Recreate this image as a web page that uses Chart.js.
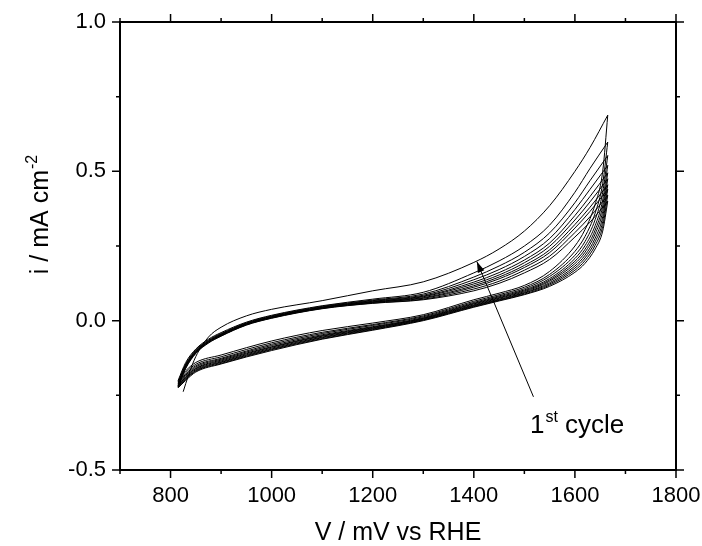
<!DOCTYPE html>
<html>
<head>
<meta charset="utf-8">
<script src="https://cdn.jsdelivr.net/npm/chart.js@4"></script>
<style>
  html, body { margin: 0; padding: 0; background: #fff; }
  #cv { display: block; }
</style>
</head>
<body>
<canvas id="cv" width="702" height="546"></canvas>
<script>
// ===== datos (V en mV, i en mA cm-2) =====
const firstAnodicV = [825, 835, 850, 875, 900, 950, 1000, 1100, 1200, 1300, 1400, 1450, 1500, 1550, 1600, 1630, 1665];
const anodicV = [815, 830, 850, 875, 900, 950, 1000, 1100, 1200, 1300, 1400, 1450, 1500, 1550, 1600, 1630, 1665];
const cathodicV = [1665, 1655, 1640, 1620, 1600, 1550, 1500, 1450, 1400, 1300, 1200, 1100, 1000, 900, 850, 830, 815];

// barrido anódico, ciclos 1..10
const anodicI = [
  [-0.238, -0.185, -0.120, -0.055, -0.022, 0.016, 0.038, 0.067, 0.100, 0.130, 0.195, 0.240, 0.300, 0.385, 0.500, 0.580, 0.688],
  [-0.200, -0.140, -0.095, -0.062, -0.040, -0.005, 0.018, 0.050, 0.072, 0.095, 0.160, 0.200, 0.250, 0.320, 0.430, 0.510, 0.598],
  [-0.205, -0.145, -0.098, -0.065, -0.043, -0.007, 0.016, 0.048, 0.069, 0.089, 0.146, 0.183, 0.229, 0.294, 0.395, 0.469, 0.553],
  [-0.209, -0.148, -0.101, -0.067, -0.045, -0.009, 0.014, 0.046, 0.067, 0.085, 0.137, 0.171, 0.215, 0.275, 0.372, 0.440, 0.520],
  [-0.212, -0.150, -0.103, -0.069, -0.046, -0.010, 0.013, 0.045, 0.065, 0.082, 0.129, 0.161, 0.203, 0.260, 0.352, 0.416, 0.495],
  [-0.215, -0.152, -0.104, -0.070, -0.047, -0.011, 0.012, 0.044, 0.063, 0.080, 0.123, 0.153, 0.194, 0.249, 0.337, 0.398, 0.475],
  [-0.217, -0.154, -0.106, -0.071, -0.049, -0.012, 0.011, 0.043, 0.062, 0.077, 0.117, 0.146, 0.185, 0.237, 0.322, 0.380, 0.455],
  [-0.219, -0.156, -0.107, -0.072, -0.050, -0.013, 0.010, 0.042, 0.061, 0.075, 0.112, 0.140, 0.178, 0.228, 0.310, 0.366, 0.440],
  [-0.221, -0.158, -0.108, -0.074, -0.051, -0.014, 0.009, 0.041, 0.059, 0.072, 0.106, 0.132, 0.169, 0.216, 0.295, 0.348, 0.420],
  [-0.223, -0.160, -0.110, -0.075, -0.052, -0.015, 0.008, 0.040, 0.058, 0.070, 0.100, 0.125, 0.160, 0.205, 0.280, 0.330, 0.400]
];

// barrido catódico, ciclos 1..10
const cathodicI = [
  [0.688, 0.500, 0.390, 0.305, 0.250, 0.165, 0.118, 0.092, 0.070, 0.020, -0.008, -0.033, -0.068, -0.115, -0.140, -0.168, -0.200],
  [0.598, 0.460, 0.360, 0.282, 0.232, 0.155, 0.112, 0.087, 0.065, 0.016, -0.013, -0.039, -0.074, -0.121, -0.146, -0.174, -0.205],
  [0.553, 0.430, 0.338, 0.265, 0.219, 0.148, 0.107, 0.083, 0.061, 0.013, -0.016, -0.043, -0.079, -0.126, -0.151, -0.179, -0.209],
  [0.520, 0.404, 0.318, 0.251, 0.208, 0.141, 0.103, 0.080, 0.058, 0.010, -0.020, -0.047, -0.083, -0.129, -0.155, -0.183, -0.212],
  [0.495, 0.384, 0.303, 0.239, 0.199, 0.136, 0.100, 0.077, 0.056, 0.008, -0.022, -0.050, -0.087, -0.132, -0.159, -0.187, -0.215],
  [0.475, 0.366, 0.290, 0.229, 0.191, 0.132, 0.097, 0.075, 0.053, 0.007, -0.024, -0.052, -0.089, -0.135, -0.161, -0.189, -0.217],
  [0.455, 0.348, 0.276, 0.219, 0.183, 0.127, 0.094, 0.072, 0.051, 0.005, -0.026, -0.055, -0.092, -0.138, -0.164, -0.192, -0.219],
  [0.440, 0.332, 0.264, 0.210, 0.176, 0.123, 0.092, 0.070, 0.049, 0.003, -0.028, -0.057, -0.095, -0.140, -0.167, -0.195, -0.221],
  [0.420, 0.316, 0.252, 0.201, 0.169, 0.119, 0.089, 0.068, 0.047, 0.002, -0.030, -0.060, -0.097, -0.143, -0.169, -0.197, -0.223],
  [0.400, 0.300, 0.240, 0.192, 0.162, 0.115, 0.087, 0.066, 0.045, 0.000, -0.032, -0.062, -0.100, -0.145, -0.172, -0.200, -0.225]
];

// ejes
const xTicks = [800, 1000, 1200, 1400, 1600, 1800];
const xMinorTicks = [700, 900, 1100, 1300, 1500, 1700];
const yTicks = [-0.5, 0.0, 0.5, 1.0];
const yMinorTicks = [-0.25, 0.25, 0.75];

// anotación "1st cycle"
const arrowFrom = { x: 1518, y: -0.255 };
const arrowTo = { x: 1406, y: 0.198 };
const labelAt = { x: 1511, y: -0.376 };

const FONT = '"Liberation Sans", Arial, sans-serif';

const datasets = [];
anodicI.forEach((row, c) => {
  const vs = c === 0 ? firstAnodicV : anodicV;
  datasets.push({ label: 'Ciclo ' + (c + 1) + ' anódico', data: row.map((v, i) => ({ x: vs[i], y: v })) });
  datasets.push({ label: 'Ciclo ' + (c + 1) + ' catódico', data: cathodicI[c].map((v, i) => ({ x: cathodicV[i], y: v })) });
});
datasets.forEach(d => {
  d.showLine = true;
  d.borderColor = '#000';
  d.borderWidth = 1;
  d.pointRadius = 0;
  d.cubicInterpolationMode = 'monotone';
});

/* ===== marco, ticks menores, títulos y flecha ===== */
const cvDecor = {
  id: 'cvDecor',
  afterDraw(chart) {
    const { ctx, chartArea: a, scales: { x, y } } = chart;
    ctx.save();
    ctx.strokeStyle = '#000';
    ctx.fillStyle = '#000';
    ctx.lineWidth = 2;
    ctx.strokeRect(a.left, a.top, a.right - a.left, a.bottom - a.top);

    const tick = (px, isX, len) => {
      ctx.beginPath();
      if (isX) {
        ctx.moveTo(px, a.bottom); ctx.lineTo(px, a.bottom + len);
        ctx.moveTo(px, a.top); ctx.lineTo(px, a.top - len);
      } else {
        ctx.moveTo(a.left, px); ctx.lineTo(a.left - len, px);
        ctx.moveTo(a.right, px); ctx.lineTo(a.right + len, px);
      }
      ctx.stroke();
    };
    ctx.lineWidth = 1.5;
    xTicks.forEach(v => tick(x.getPixelForValue(v), true, 8));
    xMinorTicks.forEach(v => tick(x.getPixelForValue(v), true, 4));
    yTicks.forEach(v => tick(y.getPixelForValue(v), false, 8));
    yMinorTicks.forEach(v => tick(y.getPixelForValue(v), false, 4));

    // título eje x
    ctx.font = '25px ' + FONT;
    ctx.textAlign = 'center';
    ctx.textBaseline = 'alphabetic';
    ctx.fillText('V / mV vs RHE', (a.left + a.right) / 2, 540);

    // título eje y con superíndice
    ctx.save();
    ctx.translate(48, 215);
    ctx.rotate(-Math.PI / 2);
    ctx.textAlign = 'left';
    ctx.font = '25px ' + FONT;
    const main = 'i / mA cm';
    const wMain = ctx.measureText(main).width;
    ctx.font = '16px ' + FONT;
    const wSup = ctx.measureText('-2').width;
    const start = -(wMain + wSup) / 2;
    ctx.font = '25px ' + FONT;
    ctx.fillText(main, start, 0);
    ctx.font = '16px ' + FONT;
    ctx.fillText('-2', start + wMain + 1, -11);
    ctx.restore();

    // flecha
    const x0 = x.getPixelForValue(arrowFrom.x), y0 = y.getPixelForValue(arrowFrom.y);
    const x1 = x.getPixelForValue(arrowTo.x), y1 = y.getPixelForValue(arrowTo.y);
    ctx.lineWidth = 1;
    ctx.beginPath(); ctx.moveTo(x0, y0); ctx.lineTo(x1, y1); ctx.stroke();
    const ang = Math.atan2(y1 - y0, x1 - x0);
    const hl = 11, hw = 3.5;
    ctx.beginPath();
    ctx.moveTo(x1, y1);
    ctx.lineTo(x1 - hl * Math.cos(ang) + hw * Math.sin(ang), y1 - hl * Math.sin(ang) - hw * Math.cos(ang));
    ctx.lineTo(x1 - hl * Math.cos(ang) - hw * Math.sin(ang), y1 - hl * Math.sin(ang) + hw * Math.cos(ang));
    ctx.closePath();
    ctx.fill();

    // texto "1st cycle"
    const lx = x.getPixelForValue(labelAt.x), ly = y.getPixelForValue(labelAt.y);
    ctx.textAlign = 'left';
    ctx.font = '26px ' + FONT;
    ctx.fillText('1', lx, ly);
    const w1 = ctx.measureText('1').width;
    ctx.font = '16px ' + FONT;
    ctx.fillText('st', lx + w1 + 1, ly - 11);
    const wst = ctx.measureText('st').width;
    ctx.font = '26px ' + FONT;
    ctx.fillText(' cycle', lx + w1 + wst + 1, ly);
    ctx.restore();
  }
};

new Chart(document.getElementById('cv'), {
  type: 'scatter',
  data: { datasets },
  options: {
    responsive: false,
    animation: false,
    layout: { padding: { top: 22, right: 26, left: 0, bottom: 0 } },
    plugins: { legend: { display: false }, tooltip: { enabled: false } },
    scales: {
      x: {
        type: 'linear',
        min: 700,
        max: 1800,
        afterBuildTicks: s => { s.ticks = xTicks.map(v => ({ value: v })); },
        afterFit: s => { s.height = 76; s.paddingLeft = 0; s.paddingRight = 0; },
        grid: { display: false, drawTicks: false },
        border: { display: false },
        ticks: { color: '#000', padding: 13, maxRotation: 0, font: { family: FONT, size: 22 }, callback: v => String(v) }
      },
      y: {
        type: 'linear',
        min: -0.5,
        max: 1.0,
        afterBuildTicks: s => { s.ticks = yTicks.map(v => ({ value: v })); },
        afterFit: s => { s.width = 120; s.paddingTop = 0; s.paddingBottom = 0; },
        grid: { display: false, drawTicks: false },
        border: { display: false },
        ticks: { color: '#000', padding: 14, font: { family: FONT, size: 22 }, callback: v => v.toFixed(1) }
      }
    }
  },
  plugins: [cvDecor]
});
</script>
</body>
</html>
